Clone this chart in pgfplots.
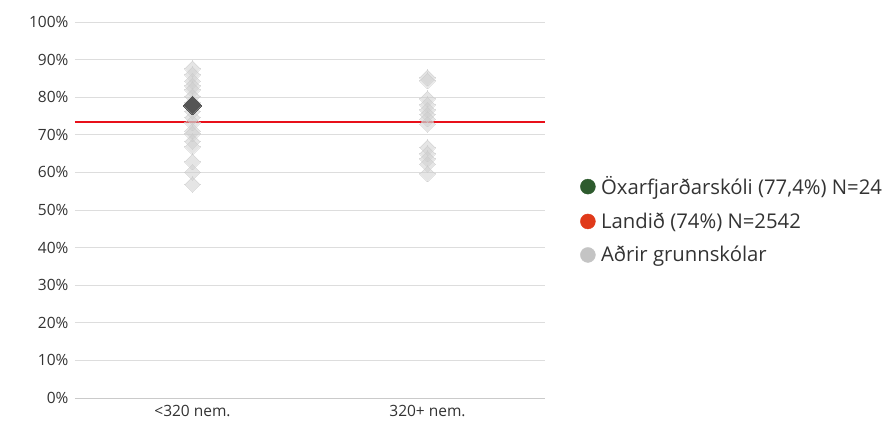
\documentclass[border=0pt]{standalone}
\usepackage{pgfplots}
\pgfplotsset{compat=1.18}
\usepackage{fontspec}
\setmainfont{Open Sans}[RawFeature={+zero}]
\definecolor{txt}{HTML}{333333}
\definecolor{gridc}{HTML}{DDDDDD}
\definecolor{darkg}{HTML}{2E5B2E}
\definecolor{legred}{HTML}{E03A1A}
\definecolor{legray}{HTML}{C4C4C4}
\definecolor{dmd}{HTML}{555555}
\definecolor{lgd}{HTML}{CCCCCC}
\definecolor{refred}{RGB}{232,16,26}
\begin{document}
\begin{tikzpicture}
\useasboundingbox (-75bp,-29bp) rectangle (812bp,398bp);
\begin{axis}[
  scale only axis,
  width=470bp, height=376bp,
  xmin=-0.5, xmax=1.5, ymin=0, ymax=100,
  xtick={0,1}, xticklabels={{<320 nem.},{320+ nem.}},
  ytick={0,10,...,100},
  yticklabel={\pgfmathprintnumber{\tick}\%},
  /pgf/number format/assume math mode=true,
  ymajorgrids, grid style={gridc, line width=0.8pt},
  axis line style={draw=none},
  major tick length=0pt,
  tick label style={font=\fontsize{15.5bp}{17bp}\selectfont, text=txt},
  yticklabel style={xshift=-3bp},
  xticklabel style={yshift=-4bp},
  clip=false,
  legend style={at={(rel axis cs:1,0.473)}, anchor=west, draw=none, fill=none,
    font=\fontsize{20.3bp}{23bp}\selectfont, text=txt, row sep=12.5bp,
    xshift=35bp, inner sep=0pt},
  legend cell align=left,
]
\addlegendimage{legend image code/.code={\fill[darkg] (0bp,0bp) circle (7.5bp); \path (11bp,0bp);}}
\addlegendentry{Öxarfjarðarskóli (77,4\%) N=24}
\addlegendimage{legend image code/.code={\fill[legred] (0bp,0bp) circle (7.5bp); \path (11bp,0bp);}}
\addlegendentry{Landið (74\%) N=2542}
\addlegendimage{legend image code/.code={\fill[legray] (0bp,0bp) circle (7.5bp); \path (11bp,0bp);}}
\addlegendentry{Aðrir grunnskólar}
\addplot[forget plot, draw=gridc!80!gray, line width=0.8pt, mark=none] coordinates {(-0.5,0) (1.5,0)};
\addplot[forget plot, draw=refred, line width=2pt, mark=none, solid] coordinates {(-0.5,73.5) (1.5,73.5)};
\addplot[forget plot, only marks, color=lgd, mark=square*, mark size=5.6bp, opacity=0.5,
  mark options={rotate=45, draw=lgd, fill=lgd, line width=0pt}]
  coordinates {
  (0,87.6) (0,86.0) (0,84.3) (0,83.0) (0,82.0) (0,80.2) (0,78.5)
  (0,76.2) (0,74.6) (0,73.2) (0,71.0) (0,70.3) (0,68.2) (0,66.8)
  (0,62.8) (0,60.0) (0,56.8)
  (1,85.2) (1,84.4) (1,79.6) (1,78.0) (1,76.6) (1,75.4) (1,74.2)
  (1,72.8) (1,66.6) (1,65.0) (1,63.6) (1,62.2) (1,59.6)
  };
\addplot[forget plot, only marks, color=dmd, mark=square*, mark size=6.4bp,
  mark options={rotate=45, draw=dmd, fill=dmd, line width=0pt}]
  coordinates {(0,77.8)};
\end{axis}
\end{tikzpicture}
\end{document}
